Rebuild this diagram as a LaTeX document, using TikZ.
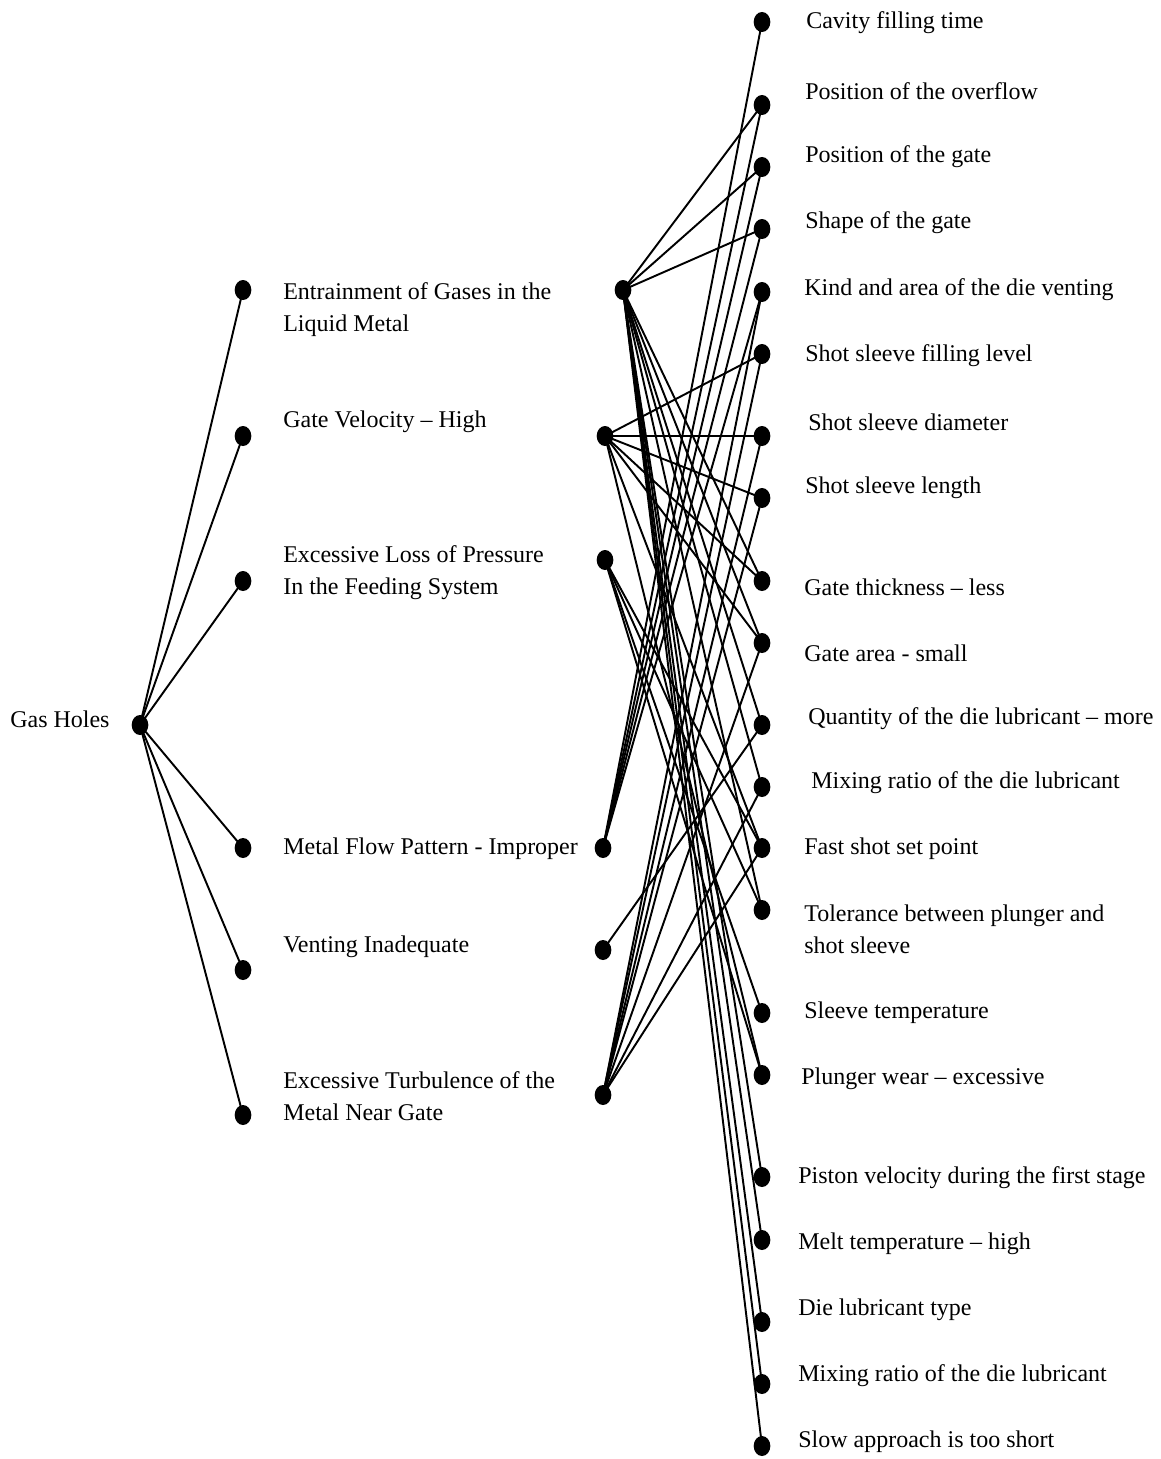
\documentclass[tikz,border=0pt]{standalone}
\usepackage{fontspec}
\setmainfont{Liberation Serif}
\usetikzlibrary{shapes.geometric}
\begin{document}
\begin{tikzpicture}[x=0.75pt,y=-0.75pt,
  dot/.style={ellipse,fill=black,inner sep=0pt,minimum width=12.5pt,minimum height=15pt},
  lbl/.style={anchor=west,inner sep=0pt,font=\fontsize{18}{24}\selectfont},
  lbl2/.style={anchor=north west,inner sep=0pt,align=left,font=\fontsize{18}{24}\selectfont},
  link/.style={line width=1.45pt}]
\useasboundingbox (0,0) rectangle (1160,1459);

% root
\node[lbl] (gh) at (10,719) {Gas Holes};
\node[dot] (g) at (140,725) {};

% first level: dots joined to the root
\foreach \i/\y in {1/290,2/436,3/581,4/848,5/970,6/1115}
  \node[dot] (l\i) at (243,\y) {};

% first level labels
\node[lbl2] (t1) at (283,282) {Entrainment of Gases in the\\Liquid Metal};
\node[lbl] (t2) at (283,422) {Gate Velocity -- High};
\node[lbl2] (t3) at (283,545) {Excessive Loss of Pressure\\In the Feeding System};
\node[lbl] (t4) at (283,849) {Metal Flow Pattern - Improper};
\node[lbl] (t5) at (283,947) {Venting Inadequate};
\node[lbl2] (t6) at (283,1071) {Excessive Turbulence of the\\Metal Near Gate};

% first level dots joined to the causes
\node[dot] (m1) at (623,290) {};
\node[dot] (m2) at (605,436) {};
\node[dot] (m3) at (605,560) {};
\node[dot] (m4) at (603,848) {};
\node[dot] (m5) at (603,950) {};
\node[dot] (m6) at (603,1095) {};

% causes
\foreach \i/\y in {1/22,2/105,3/167,4/229,5/292,6/354,7/436,8/498,9/581,10/643,
  11/725,12/787,13/848,14/910,15/1013,16/1075,17/1177,18/1240,19/1322,20/1384,21/1446}
  \node[dot] (r\i) at (762,\y) {};

\node[lbl] (c1) at (806,23) {Cavity filling time};
\node[lbl] (c2) at (805,91) {Position of the overflow};
\node[lbl] (c3) at (805,157) {Position of the gate};
\node[lbl] (c4) at (805,223) {Shape of the gate};
\node[lbl] (c5) at (804,290) {Kind and area of the die venting};
\node[lbl] (c6) at (805,356) {Shot sleeve filling level};
\node[lbl] (c7) at (808,422) {Shot sleeve diameter};
\node[lbl] (c8) at (805,488) {Shot sleeve length};
\node[lbl] (c9) at (804,587) {Gate thickness -- less};
\node[lbl] (c10) at (804,653) {Gate area - small};
\node[lbl] (c11) at (808,719) {Quantity of the die lubricant -- more};
\node[lbl] (c12) at (811,783) {Mixing ratio of the die lubricant};
\node[lbl] (c13) at (804,849) {Fast shot set point};
\node[lbl2] (c14) at (804,905) {Tolerance between plunger and\\shot sleeve};
\node[lbl] (c15) at (804,1013) {Sleeve temperature};
\node[lbl] (c16) at (801,1079) {Plunger wear -- excessive};
\node[lbl] (c17) at (798,1178) {Piston velocity during the first stage};
\node[lbl] (c18) at (798,1244) {Melt temperature -- high};
\node[lbl] (c19) at (798,1310) {Die lubricant type};
\node[lbl] (c20) at (798,1376) {Mixing ratio of the die lubricant};
\node[lbl] (c21) at (798,1442) {Slow approach is too short};

% root to first level
\foreach \i in {1,...,6} \draw[link] (g.center) -- (l\i.center);

% first level to causes
\foreach \j in {2,3,4,9,10,11,12,14,17,18,19,20,21} \draw[link] (m1.center) -- (r\j.center);
\foreach \j in {6,7,8,9,10,13,16} \draw[link] (m2.center) -- (r\j.center);
\foreach \j in {13,14,15,16} \draw[link] (m3.center) -- (r\j.center);
\foreach \j in {1,2,3,4,5} \draw[link] (m4.center) -- (r\j.center);
\foreach \j in {11} \draw[link] (m5.center) -- (r\j.center);
\foreach \j in {5,6,7,8,10,12,13} \draw[link] (m6.center) -- (r\j.center);
\end{tikzpicture}
\end{document}
